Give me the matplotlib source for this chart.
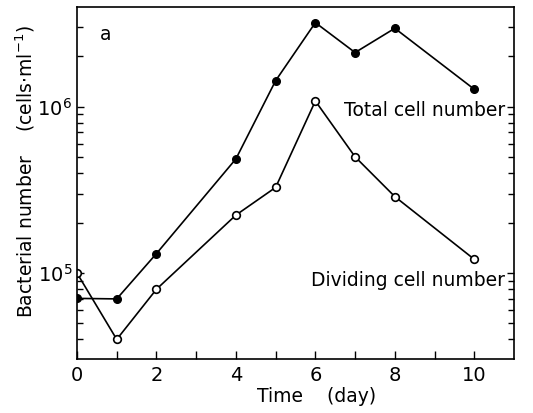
import matplotlib
matplotlib.use("Agg")
import matplotlib.pyplot as plt
from matplotlib.ticker import FixedLocator, LogLocator, NullFormatter, FixedFormatter

days = [0, 1, 2, 4, 5, 6, 7, 8, 10]
total_cells = [7.05e4, 7.0e4, 1.31e5, 4.85e5, 1.43e6, 3.19e6, 2.11e6, 2.95e6, 1.27e6]
dividing_cells = [1.0e5, 4.0e4, 8.0e4, 2.23e5, 3.27e5, 1.08e6, 4.99e5, 2.88e5, 1.21e5]
x_tick_labels = ["0", "2", "4", "6", "8", "10"]

W, H = 533, 413
fig = plt.figure(figsize=(W / 100, H / 100), dpi=100)
ax = fig.add_axes([77 / W, 1 - 359 / H, (514 - 77) / W, (359 - 7) / H])

ax.plot(days, total_cells, color="black", lw=1.2, marker="o", ms=5.5,
        mfc="black", mec="black")
ax.plot(days, dividing_cells, color="black", lw=1.2, marker="o", ms=5.5,
        mfc="white", mec="black", mew=1.2)

ax.set_yscale("log")
ax.set_xlim(0, 11)
ax.set_ylim(3.05e4, 3.96e6)

ax.xaxis.set_major_locator(FixedLocator([0, 2, 4, 6, 8, 10]))
ax.xaxis.set_major_formatter(FixedFormatter(x_tick_labels))
ax.xaxis.set_minor_locator(FixedLocator([1, 3, 5, 7, 9]))
ax.yaxis.set_major_locator(FixedLocator([1e5, 1e6]))
ax.yaxis.set_minor_locator(LogLocator(base=10, subs=range(2, 10)))
ax.yaxis.set_minor_formatter(NullFormatter())

ax.tick_params(which="both", direction="in", right=True, labelsize=14, width=1)
ax.tick_params(which="major", length=5)
ax.tick_params(which="minor", length=4)
ax.tick_params(axis="x", which="both", length=6, pad=5)
for s in ax.spines.values():
    s.set_linewidth(1.2)

fs = 13.5
ax.text(100 / W, 1 - 35 / H, "a", transform=fig.transFigure, fontsize=fs,
        ha="left", va="center")
ax.text(505 / W, 1 - 110 / H, "Total cell number", transform=fig.transFigure,
        fontsize=fs, ha="right", va="center")
ax.text(505 / W, 1 - 280 / H, "Dividing cell number", transform=fig.transFigure,
        fontsize=fs, ha="right", va="center")

fig.text(317 / W, 1 - 397 / H, "Time    (day)", fontsize=fs, ha="center", va="center")
fig.text(25 / W, 1 - 172 / H, r"Bacterial number    (cells$\cdot$ml$^{-1}$)",
         fontsize=fs, ha="center", va="center", rotation=90)

fig.savefig("out.png", dpi=100)
